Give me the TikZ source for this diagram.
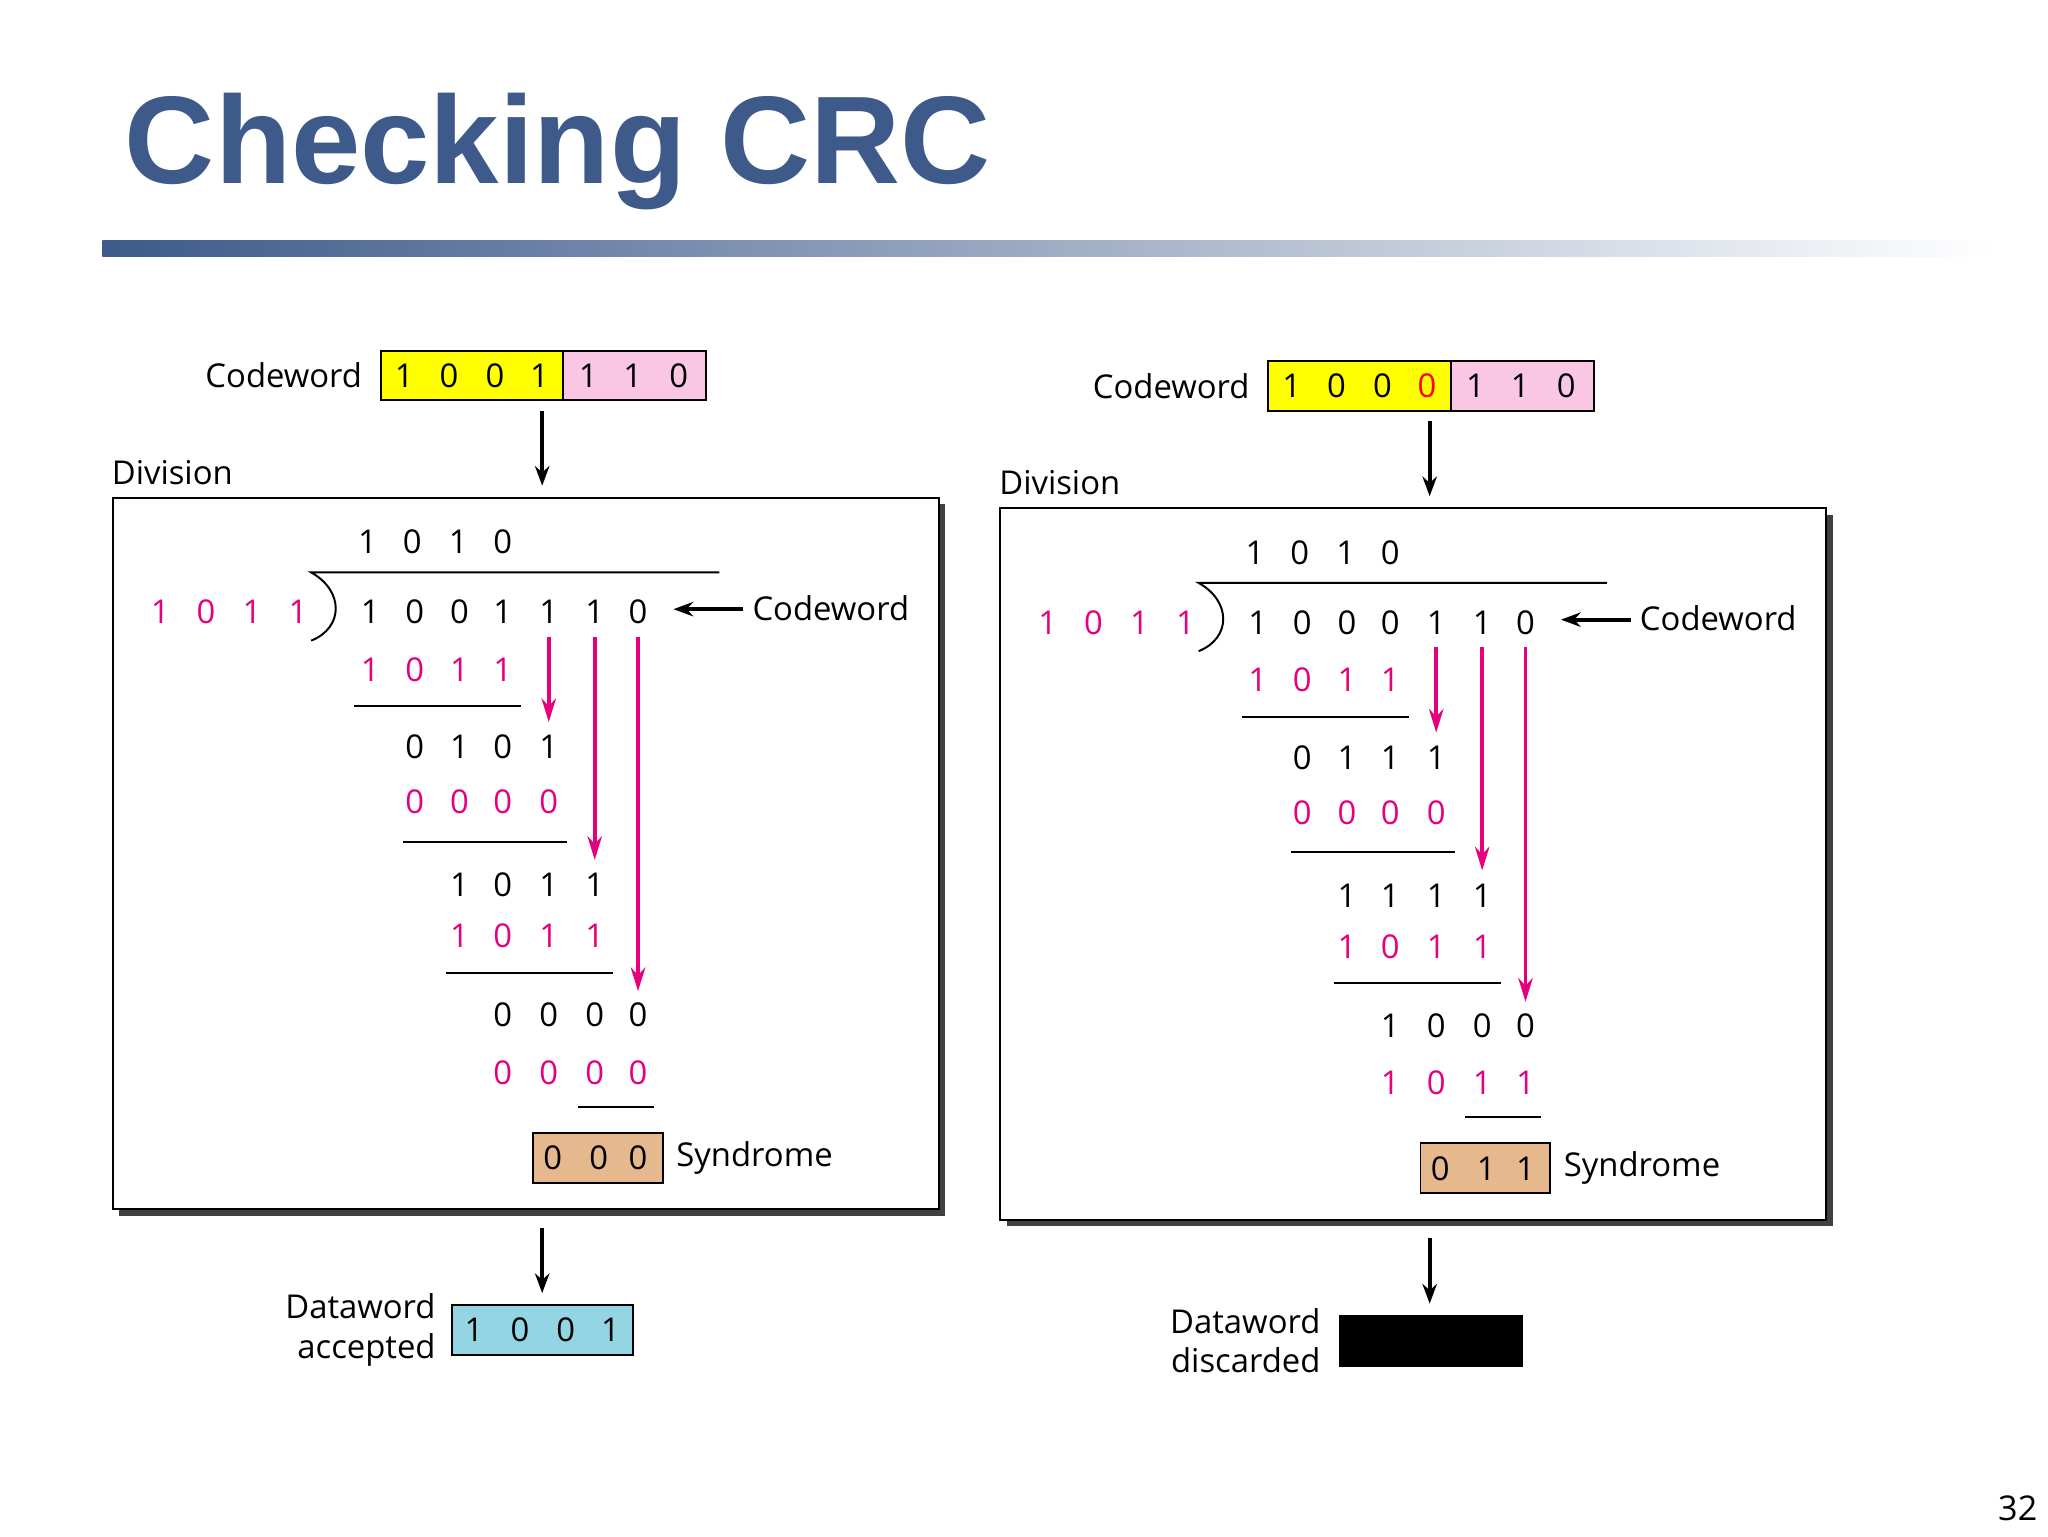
\documentclass[tikz,border=0pt]{standalone}
\usepackage{fontspec}
\setmainfont{Open Sans}
\newfontfamily\titlefont{Liberation Sans}
\usetikzlibrary{arrows.meta}
\definecolor{titleblue}{HTML}{3D5A8A}
\definecolor{mag}{HTML}{E6007E}
\definecolor{cyel}{HTML}{FFFF00}
\definecolor{cpink}{HTML}{F9C6E4}
\definecolor{ctan}{HTML}{E6B88E}
\definecolor{cblue}{HTML}{93D5E3}
\newcommand\digs[3]{\foreach \xx/\dd in {#3}{\node[dig,text=#2] at (\xx,#1) {\dd};}}
\begin{document}
\begin{tikzpicture}[x=1pt,y=-1pt,
  dig/.style={font=\fontsize{25}{25}\selectfont,inner sep=0pt,anchor=center},
  lbl/.style={font=\fontsize{25}{30}\selectfont,inner sep=0pt},
  bx/.style={draw=black,line width=1.5pt},
  blk/.style={-{Stealth[length=15pt,width=11pt]},line width=3pt},
  mg/.style={-{Stealth[length=18pt,width=11pt]},mag,line width=2.8pt},
  rule/.style={line width=1.5pt}]
\useasboundingbox (0,0) rectangle (1560,1170);
\fill[white] (0,0) rectangle (1560,1170);
\node[anchor=base west,inner sep=0pt,text=titleblue,font=\titlefont\bfseries\fontsize{95}{95}\selectfont] (title) at (95,140) {Checking CRC};
\shade[left color=titleblue,right color=white] (78,183) rectangle (1520,195);
\node[anchor=base east,font=\fontsize{26}{26}\selectfont,inner sep=0pt] (pg) at (1552,1158) {32};
\foreach \dx/\dy/\side in {0/0/L,676/8/R}{
\begin{scope}[shift={(\dx,\dy)}]
  \fill[black!75] (91,384) rectangle (720,926);
  \draw[fill=white,line width=1.5pt] (86,379) rectangle (715,921);
  \draw[bx,fill=cyel] (290,267) rectangle (429,305);
  \draw[bx,fill=cpink] (429,267) rectangle (538,305);
  \node[lbl,anchor=east] (cw\side) at (276,286) {Codeword};
  \node[lbl,anchor=base west] (div\side) at (85,369) {Division};
  \coordinate (a1\side) at (413,313); \coordinate (a2\side) at (413,370);
  \draw[blk] (a1\side) -- (a2\side);
  \digs{413}{black}{280/1,314/0,349/1,383/0}
  \draw[rule] (548,436) -- (237,436) .. controls (262,450) and (262,478) .. (237,488);
  \digs{466}{mag}{122/1,157/0,192/1,227/1}
  \node[lbl,anchor=west] (cw2\side) at (573,463) {Codeword};
  \coordinate (c1\side) at (566,464); \coordinate (c2\side) at (513,464);
  \draw[blk] (c1\side) -- (c2\side);
  \draw[rule] (270,538) -- (397,538);
  \draw[rule] (307,641) -- (432,641);
  \draw[rule] (340,741) -- (467,741);
  \draw[rule] (440,843) -- (498,843);
  \draw[bx,fill=ctan] (406,863) rectangle (505,901);
  \node[lbl,anchor=west] (syn\side) at (515,882) {Syndrome};
  \coordinate (m1\side) at (418,485); \coordinate (m1e\side) at (418,550);
  \coordinate (m2\side) at (453,485); \coordinate (m2e\side) at (453,655);
  \coordinate (m3\side) at (486,485); \coordinate (m3e\side) at (486,755);
  \draw[mg] (m1\side) -- (m1e\side);
  \draw[mg] (m2\side) -- (m2e\side);
  \draw[mg] (m3\side) -- (m3e\side);
  \coordinate (d1\side) at (413,935); \coordinate (d2\side) at (413,985);
  \draw[blk] (d1\side) -- (d2\side);
\end{scope}}
% left specifics
\digs{286}{black}{308/1,342/0,377/0,411/1,448/1,482/1,517/0}
\digs{466}{black}{282/1,316/0,350/0,383/1,418/1,453/1,486/0}
\digs{510}{mag}{282/1,316/0,350/1,383/1}
\digs{569}{black}{316/0,350/1,383/0,418/1}
\digs{611}{mag}{316/0,350/0,383/0,418/0}
\digs{674}{black}{350/1,383/0,418/1,453/1}
\digs{713}{mag}{350/1,383/0,418/1,453/1}
\digs{773}{black}{383/0,418/0,453/0,486/0}
\digs{817}{mag}{383/0,418/0,453/0,486/0}
\digs{882}{black}{421/0,456/0,486/0}
\draw[bx,fill=cblue] (344,994) rectangle (482,1032);
\digs{1013}{black}{361/1,396/0,431/0,465/1}
\node[lbl,anchor=east,align=right] (dwa) at (332,1013) {Dataword\\accepted};
% right specifics
\begin{scope}[shift={(676,8)}]
\digs{286}{black}{308/1,342/0,377/0,448/1,482/1,517/0}
\node[dig,text=red] at (411,286) {0};
\digs{466}{black}{282/1,316/0,350/0,383/0,418/1,453/1,486/0}
\digs{510}{mag}{282/1,316/0,350/1,383/1}
\digs{569}{black}{316/0,350/1,383/1,418/1}
\digs{611}{mag}{316/0,350/0,383/0,418/0}
\digs{674}{black}{350/1,383/1,418/1,453/1}
\digs{713}{mag}{350/1,383/0,418/1,453/1}
\digs{773}{black}{383/1,418/0,453/0,486/0}
\digs{817}{mag}{383/1,418/0,453/1,486/1}
\digs{882}{black}{421/0,456/1,486/1}
\fill[black] (344,994) rectangle (484,1033);
\node[lbl,anchor=east,align=right] (dwd) at (330,1013) {Dataword\\discarded};
\end{scope}
\end{tikzpicture}
\end{document}
